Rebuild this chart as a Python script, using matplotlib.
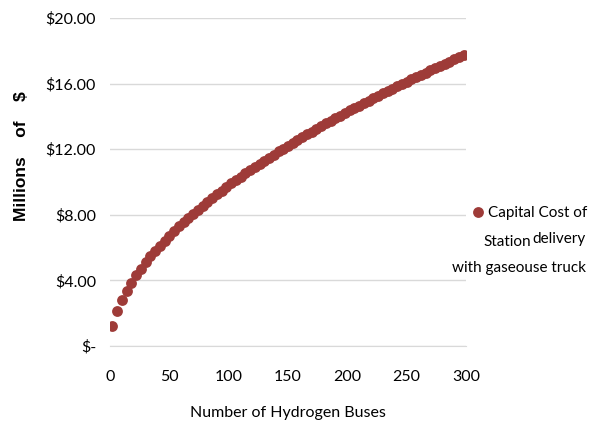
import matplotlib
matplotlib.use("Agg")
import matplotlib.pyplot as plt
from matplotlib.ticker import FuncFormatter

# number of buses
buses = list(range(2, 300, 4))
# capital cost, millions of $
cost = [1.20, 2.13, 2.81, 3.37, 3.86, 4.31, 4.72, 5.10, 5.46, 5.79,
        6.12, 6.43, 6.73, 7.01, 7.29, 7.56, 7.82, 8.07, 8.32, 8.56,
        8.80, 9.03, 9.26, 9.48, 9.69, 9.91, 10.11, 10.32, 10.52, 10.72,
        10.92, 11.11, 11.30, 11.49, 11.67, 11.86, 12.04, 12.21, 12.39, 12.56,
        12.73, 12.90, 13.07, 13.24, 13.40, 13.57, 13.73, 13.89, 14.04, 14.20,
        14.36, 14.51, 14.66, 14.81, 14.96, 15.11, 15.26, 15.40, 15.55, 15.69,
        15.84, 15.98, 16.12, 16.26, 16.40, 16.53, 16.67, 16.81, 16.94, 17.07,
        17.21, 17.34, 17.47, 17.60, 17.73]

yticks = [0, 4, 8, 12, 16, 20]
xticks = [0, 50, 100, 150, 200, 250, 300]

font = "Lato"
fs = 11
red = "#9E3B38"

fig = plt.figure(figsize=(6, 4.21), dpi=100)
ax = fig.add_axes([110/600, 1-346/421, 356/600, 328/421])

ax.plot(buses, cost, "o", color=red, markersize=7.8, markeredgewidth=0,
        label="Capital Cost of")

ax.set_xlim(0, 300)
ax.set_ylim(0, 20)
ax.set_xticks(xticks)
ax.set_yticks(yticks)
ax.yaxis.set_major_formatter(FuncFormatter(lambda v, p: "$-" if v == 0 else "${:.2f}".format(v)))
ax.grid(axis="y", color="#d9d9d9", linewidth=1)
ax.set_axisbelow(True)
for s in ["top", "right", "left"]:
    ax.spines[s].set_visible(False)
ax.spines["bottom"].set_color("#d9d9d9")
ax.tick_params(length=0, labelsize=11.5)
ax.tick_params(axis="y", pad=10)
ax.tick_params(axis="x", pad=17)
for lbl in ax.get_xticklabels() + ax.get_yticklabels():
    lbl.set_fontfamily(font)

ax.set_xlabel("Number of Hydrogen Buses", fontsize=11.5, family=font, labelpad=16)
fig.text(22/600, 1-156/421, "Millions    of    $", rotation=90, ha="center", va="center",
         fontsize=12.5, fontweight="bold", family="Liberation Sans")

leg = fig.legend(loc="center left", bbox_to_anchor=(470/600, 1-213/421), frameon=False,
                 handletextpad=0.2, handlelength=1.0, prop={"family": font, "size": fs},
                 borderpad=0, borderaxespad=0)
fig.text(531/600, 1-242/421, "Station", ha="right", va="center", family=font, fontsize=fs)
fig.text(586/600, 1-239/421, "delivery", ha="right", va="center", family=font, fontsize=fs)
fig.text(586/600, 1-268/421, "with gaseouse truck", ha="right", va="center", family=font, fontsize=fs)

fig.savefig("out.png", dpi=100)
